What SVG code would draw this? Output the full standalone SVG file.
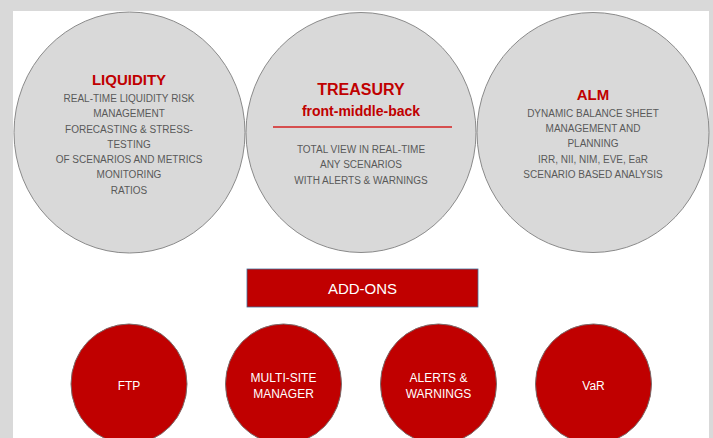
<svg xmlns="http://www.w3.org/2000/svg" width="713" height="438" viewBox="0 0 713 438">
<style>
.big{fill:#d9d9d9;stroke:#8a8a8a;stroke-width:1}
.red{fill:#c00000;stroke:#7a6a6a;stroke-width:1}
.t{font-family:"Liberation Sans",Arial,sans-serif;text-anchor:middle}
.title{fill:#c00000;font-weight:bold;font-size:15px}
.body{fill:#595959;font-size:10px}
.w{fill:#ffffff;font-size:12px}
</style>
<rect x="0" y="0" width="713" height="438" fill="#d9d9d9"/>
<rect x="13" y="11" width="696" height="427" fill="#ffffff"/>
<g id="liquidity">
<ellipse class="big" cx="129.5" cy="132.5" rx="115.5" ry="120.5"/>
<text class="t title" x="129" y="85">LIQUIDITY</text>
<text class="t body" x="129" y="102">REAL-TIME LIQUIDITY RISK</text>
<text class="t body" x="129" y="117">MANAGEMENT</text>
<text class="t body" x="129" y="133">FORECASTING &amp; STRESS-</text>
<text class="t body" x="129" y="148">TESTING</text>
<text class="t body" x="129" y="163">OF SCENARIOS AND METRICS</text>
<text class="t body" x="129" y="178">MONITORING</text>
<text class="t body" x="129" y="194">RATIOS</text>
</g>
<g id="treasury">
<ellipse class="big" cx="361" cy="132.5" rx="115" ry="120"/>
<text class="t title" x="361" y="95" style="font-size:16px">TREASURY</text>
<text class="t title" x="361" y="116" style="font-size:14px">front-middle-back</text>
<line x1="273" y1="127" x2="452" y2="127" stroke="#d42020" stroke-width="1.3"/>
<text class="t body" x="361" y="153">TOTAL VIEW IN REAL-TIME</text>
<text class="t body" x="361" y="168">ANY SCENARIOS</text>
<text class="t body" x="361" y="184">WITH ALERTS &amp; WARNINGS</text>
</g>
<g id="alm">
<ellipse class="big" cx="593" cy="132.5" rx="116" ry="120"/>
<text class="t title" x="593" y="100">ALM</text>
<text class="t body" x="593" y="117">DYNAMIC BALANCE SHEET</text>
<text class="t body" x="593" y="132">MANAGEMENT AND</text>
<text class="t body" x="593" y="147">PLANNING</text>
<text class="t body" x="593" y="163">IRR, NII, NIM, EVE, EaR</text>
<text class="t body" x="593" y="178">SCENARIO BASED ANALYSIS</text>
</g>
<g id="addons">
<rect x="247" y="269" width="231" height="38" fill="#c00000" stroke="#41719c" stroke-width="0.8"/>
<text class="t" x="362.5" y="294" fill="#ffffff" style="font-size:15px">ADD-ONS</text>
</g>
<g id="ftp">
<ellipse class="red" cx="129" cy="384" rx="58" ry="60"/>
<text class="t w" x="129" y="390">FTP</text>
</g>
<g id="multisite">
<ellipse class="red" cx="283.5" cy="384" rx="58" ry="60"/>
<text class="t w" x="283.5" y="382">MULTI-SITE</text>
<text class="t w" x="283.5" y="398">MANAGER</text>
</g>
<g id="alerts">
<ellipse class="red" cx="438.5" cy="384" rx="58" ry="60"/>
<text class="t w" x="438.5" y="382">ALERTS &amp;</text>
<text class="t w" x="438.5" y="398">WARNINGS</text>
</g>
<g id="var">
<ellipse class="red" cx="593.5" cy="384" rx="58" ry="60"/>
<text class="t w" x="593.5" y="390">VaR</text>
</g>
<g id="connectors"></g>
</svg>
